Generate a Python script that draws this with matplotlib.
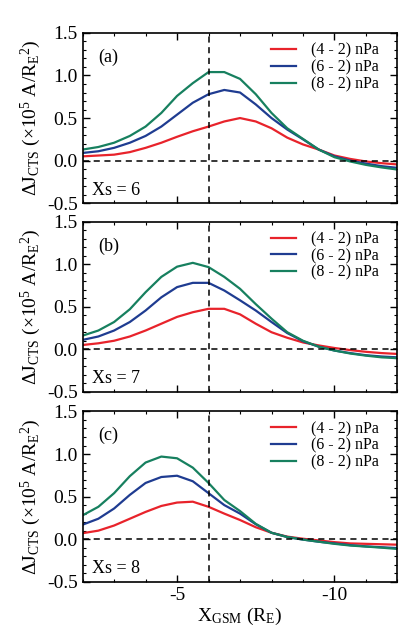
import matplotlib
matplotlib.use('Agg')
import matplotlib.pyplot as plt
from matplotlib.ticker import MultipleLocator

plt.rcParams['font.family'] = ['Liberation Serif', 'DejaVu Serif']
plt.rcParams['mathtext.fontset'] = 'custom'
plt.rcParams['mathtext.rm'] = 'Liberation Serif'
plt.rcParams['mathtext.it'] = 'Liberation Serif:italic'

# x positions (R_E) where curves were read
x_gsm = [-2, -2.5, -3, -3.5, -4, -4.5, -5, -5.5, -6, -6.5, -7, -7.5, -8,
         -8.5, -9, -9.5, -10, -10.5, -11, -11.5, -12]

labels = ['(4 - 2) nPa', '(6 - 2) nPa', '(8 - 2) nPa']
panel_tags = ['(a)', '(b)', '(c)']
xs_values = [6, 7, 8]

# panel (a), Xs = 6
a_red = [0.05, 0.06, 0.07, 0.10, 0.15, 0.21, 0.28, 0.345, 0.40, 0.46, 0.50, 0.46, 0.38,
         0.27, 0.19, 0.13, 0.06, 0.02, -0.01, -0.03, -0.045]
a_blue = [0.09, 0.11, 0.15, 0.21, 0.29, 0.40, 0.54, 0.68, 0.78, 0.83, 0.80, 0.66, 0.50,
          0.365, 0.25, 0.13, 0.05, 0.0, -0.035, -0.065, -0.085]
a_green = [0.13, 0.16, 0.21, 0.29, 0.40, 0.56, 0.76, 0.91, 1.04, 1.04, 0.96, 0.78, 0.56,
           0.38, 0.255, 0.13, 0.04, -0.01, -0.05, -0.08, -0.105]

# panel (b), Xs = 7
b_red = [0.05, 0.07, 0.10, 0.15, 0.22, 0.30, 0.38, 0.435, 0.475, 0.475, 0.41, 0.30, 0.20,
         0.135, 0.08, 0.045, 0.015, -0.01, -0.03, -0.045, -0.055]
b_blue = [0.11, 0.15, 0.22, 0.32, 0.455, 0.61, 0.73, 0.78, 0.78, 0.69, 0.575, 0.455, 0.32,
          0.19, 0.095, 0.03, -0.015, -0.045, -0.07, -0.085, -0.095]
b_green = [0.16, 0.22, 0.32, 0.47, 0.67, 0.85, 0.97, 1.015, 0.965, 0.85, 0.71, 0.53, 0.36,
           0.20, 0.10, 0.03, -0.015, -0.05, -0.075, -0.095, -0.105]

# panel (c), Xs = 8
c_red = [0.07, 0.10, 0.16, 0.24, 0.32, 0.39, 0.43, 0.44, 0.38, 0.30, 0.225, 0.14, 0.075,
         0.03, 0.005, -0.015, -0.035, -0.05, -0.055, -0.06, -0.065]
c_blue = [0.17, 0.24, 0.36, 0.52, 0.66, 0.73, 0.745, 0.68, 0.54, 0.40, 0.30, 0.175, 0.075,
          0.025, -0.005, -0.03, -0.05, -0.07, -0.085, -0.095, -0.105]
c_green = [0.28, 0.38, 0.54, 0.74, 0.90, 0.97, 0.95, 0.84, 0.66, 0.46, 0.33, 0.18, 0.075,
           0.025, -0.005, -0.03, -0.055, -0.075, -0.087, -0.10, -0.115]

panels = [(a_red, a_blue, a_green), (b_red, b_blue, b_green), (c_red, c_blue, c_green)]
colors = ['#e8232b', '#1f3c91', '#17805f']

fig = plt.figure(figsize=(4.11, 6.33), dpi=100)
bottoms = [0.679, 0.381, 0.081]

ylab = r'$\Delta$J$_{\rm CTS}$ ($\times$10$^5$ A/R$_{\rm E}$$^2$)'

for i, (series, bot) in enumerate(zip(panels, bottoms)):
    ax = fig.add_axes([0.201, bot, 0.766, 0.269])
    for ys, c, lab in zip(series, colors, labels):
        ax.plot(x_gsm, ys, color=c, lw=1.6, label=lab)
    ax.axhline(0, color='black', ls=(0, (4, 3)), lw=1.1)
    ax.axvline(-6, color='black', ls=(0, (4, 3)), lw=1.1)
    ax.set_xlim(-2, -12)
    ax.set_ylim(-0.5, 1.5)
    ax.xaxis.set_major_locator(MultipleLocator(5))
    ax.xaxis.set_minor_locator(MultipleLocator(1))
    ax.yaxis.set_major_locator(MultipleLocator(0.5))
    ax.yaxis.set_minor_locator(MultipleLocator(0.1))
    ax.tick_params(which='both', direction='in', top=True, right=True, labelsize=14)
    ax.tick_params(which='major', length=5, width=1)
    ax.tick_params(which='minor', length=2.5, width=0.8)
    for s in ax.spines.values():
        s.set_linewidth(1.2)
    ax.set_ylabel(ylab, fontsize=14, labelpad=3)
    ax.text(0.05, 0.83, panel_tags[i], transform=ax.transAxes, fontsize=13)
    ax.text(0.03, 0.05, 'Xs = %d' % xs_values[i], transform=ax.transAxes, fontsize=13)
    ax.legend(loc='upper right', frameon=False, fontsize=11.5, handlelength=1.6,
              labelspacing=0.05, handletextpad=0.9, bbox_to_anchor=(0.97, 1.0),
              borderaxespad=0.2)
    if i < 2:
        ax.set_xticklabels([])
    else:
        ax.set_xticks([-5, -10])
        ax.set_xticklabels(['-5', '-10'])
        ax.set_xlabel(r'X$_{\rm GSM}$ (R$_{\rm E}$)', fontsize=14, labelpad=2)
    ax.set_yticks([-0.5, 0.0, 0.5, 1.0, 1.5])
    ax.set_yticklabels(['-0.5', '0.0', '0.5', '1.0', '1.5'])

fig.savefig('out.png', dpi=100)
